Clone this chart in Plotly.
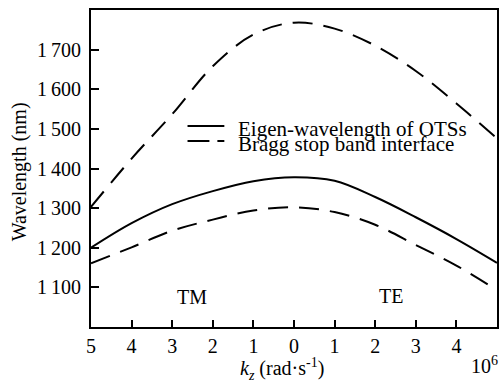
import plotly.graph_objects as go

# Data (kz in units of 10^6 rad/s; negative side = TM, positive side = TE)
kz = [-5, -4, -3, -2, -1, 0, 1, 2, 3, 4, 5]
eigen_wavelength = [1200, 1262, 1310, 1343, 1368, 1378, 1369, 1328, 1277, 1222, 1162]
bragg_lower = [1161, 1201, 1243, 1271, 1294, 1302, 1290, 1258, 1207, 1155, 1093]
bragg_upper = [1303, 1425, 1537, 1658, 1738, 1768, 1753, 1710, 1646, 1564, 1476]

x_tickvals = [-5, -4, -3, -2, -1, 0, 1, 2, 3, 4, 5]
x_ticktext = ["5", "4", "3", "2", "1", "0", "1", "2", "3", "4", "5"]
y_tickvals = [1100, 1200, 1300, 1400, 1500, 1600, 1700]
y_ticktext = ["1\u2009100", "1\u2009200", "1\u2009300", "1\u2009400", "1\u2009500", "1\u2009600", "1\u2009700"]

FONT = "Liberation Serif, Times New Roman, serif"
DASH = "20px,11px"

fig = go.Figure()
fig.add_trace(go.Scatter(x=kz, y=eigen_wavelength, mode="lines", line=dict(color="black", width=2, shape="spline"),
                         name="Eigen-wavelength of OTSs", showlegend=False, hoverinfo="skip"))
fig.add_trace(go.Scatter(x=kz, y=bragg_upper, mode="lines", line=dict(color="black", width=2, dash=DASH, shape="spline"),
                         name="Bragg stop band interface", showlegend=False, hoverinfo="skip"))
fig.add_trace(go.Scatter(x=kz, y=bragg_lower, mode="lines", line=dict(color="black", width=2, dash=DASH, shape="spline"),
                         showlegend=False, hoverinfo="skip"))

L, R, T, B = 91, 2, 10, 58
W, H = 501, 385
pw, ph = W - L - R, H - T - B

def px(xp):
    return (xp - L) / pw

def py(yp):
    return (H - B - yp) / ph

annotations = [
    dict(text="Eigen-wavelength of OTSs", x=px(237), y=py(129), xanchor="left", yanchor="middle", size=21),
    dict(text="Bragg stop band interface", x=px(237), y=py(144), xanchor="left", yanchor="middle", size=21),
    dict(text="TM", x=px(192), y=py(297), xanchor="center", yanchor="middle", size=20),
    dict(text="TE", x=px(392), y=py(296), xanchor="center", yanchor="middle", size=20),
    dict(text="<i>k</i><sub><i>z</i></sub> (rad·s<sup>-1</sup>)", x=px(283), y=py(369), xanchor="center",
         yanchor="middle", size=20),
    dict(text="10<sup>6</sup>", x=px(502), y=py(365), xanchor="right", yanchor="middle", size=20),
    dict(text="Wavelength (nm)", x=px(20), y=py(172), xanchor="center", yanchor="middle", textangle=-90, size=20),
]
for a in annotations:
    s = a.pop("size")
    a.update(xref="paper", yref="paper", showarrow=False, font=dict(family=FONT, size=s, color="black"))

shapes = [
    dict(type="line", xref="paper", yref="paper", x0=px(188), x1=px(225), y0=py(126), y1=py(126),
         line=dict(color="black", width=2)),
    dict(type="line", xref="paper", yref="paper", x0=px(188), x1=px(210), y0=py(141), y1=py(141),
         line=dict(color="black", width=2)),
    dict(type="line", xref="paper", yref="paper", x0=px(218), x1=px(225), y0=py(141), y1=py(141),
         line=dict(color="black", width=2)),
]

fig.update_layout(
    width=W, height=H,
    margin=dict(l=L, r=R, t=T, b=B),
    paper_bgcolor="white", plot_bgcolor="white",
    font=dict(family=FONT, size=20, color="black"),
    annotations=annotations,
    shapes=shapes,
    showlegend=False,
)
fig.update_xaxes(range=[-5, 5], tickvals=x_tickvals, ticktext=x_ticktext, ticks="inside", ticklen=7,
                 tickwidth=1.5, tickcolor="black", showline=True, linecolor="black", linewidth=2,
                 mirror=True, showgrid=False, zeroline=False, tickfont=dict(size=20))
fig.update_yaxes(range=[1000, 1800], tickvals=y_tickvals, ticktext=y_ticktext, ticks="inside", ticklen=8,
                 tickwidth=1.5, tickcolor="black", showline=True, linecolor="black", linewidth=2,
                 mirror=True, showgrid=False, zeroline=False, tickfont=dict(size=20), ticklabelstandoff=4)

fig.write_html("out.html", config={"displayModeBar": False},
               post_script="document.body.style.margin='0px';document.body.style.overflow='hidden';")
